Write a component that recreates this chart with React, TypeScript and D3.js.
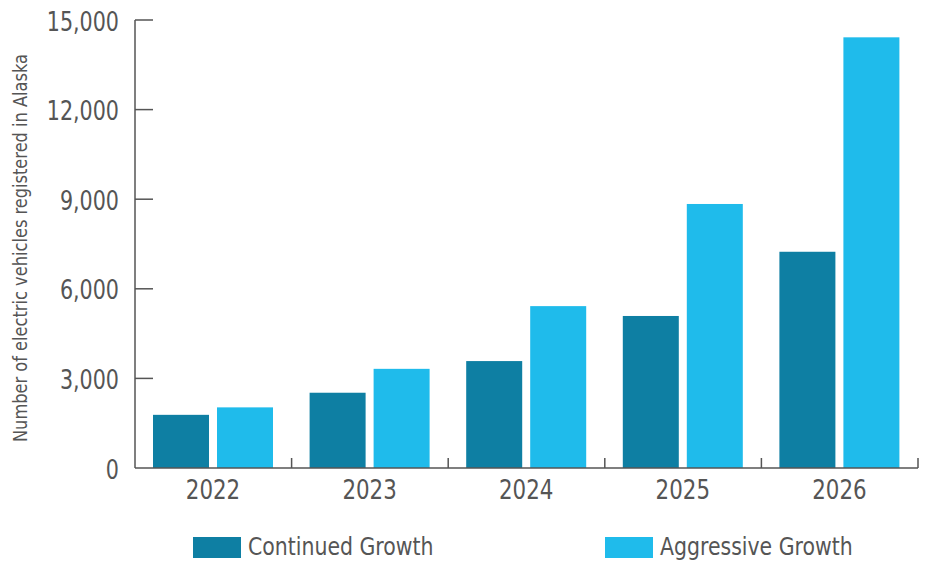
import React from "react";
import * as d3 from "d3";

const years = ["2022", "2023", "2024", "2025", "2026"];
const seriesNames = ["Continued Growth", "Aggressive Growth"];
const continuedGrowth = [1780, 2520, 3580, 5090, 7240];
const aggressiveGrowth = [2030, 3320, 5420, 8840, 14420];
const yTicks = [0, 3000, 6000, 9000, 12000, 15000];
const colors = ["#0e7fa3", "#1fbbeb"];

const FONT = "'DejaVu Sans Condensed', 'Liberation Sans Narrow', 'Open Sans', sans-serif";
const TEXT = "#555555";
const AXIS = "#555555";

function T(props: {
  x: number;
  y: number;
  sx: number;
  rot?: number;
  anchor?: string;
  size: number;
  children: React.ReactNode;
}) {
  const { x, y, sx, rot = 0, anchor = "start", size, children } = props;
  return (
    <text
      transform={`translate(${x}, ${y}) rotate(${rot}) scale(${sx}, 1)`}
      textAnchor={anchor}
      dominantBaseline="middle"
      fontSize={size}
      fill={TEXT}
    >
      {children}
    </text>
  );
}

export default function App() {
  const W = 925;
  const H = 565;
  const left = 135;
  const right = 918;
  const top = 20;
  const bottom = 468;

  const x0 = d3.scaleBand<string>().domain(years).range([left, right]).padding(0);
  const x1 = d3.scaleBand<string>().domain(seriesNames).range([18, 138]).paddingInner(0.125).paddingOuter(0);
  const y = d3.scaleLinear().domain([0, 15000]).range([bottom, top]);
  const fmt = d3.format(",");

  const values = [continuedGrowth, aggressiveGrowth];

  return (
    <svg width={W} height={H} style={{ position: "absolute", left: 0, top: 0, background: "#fff" }} fontFamily={FONT}>
      <rect x={0} y={0} width={W} height={H} fill="#fff" />
      {/* bars */}
      {years.map((yr, i) => (
        <g key={yr}>
          {seriesNames.map((s, j) => (
            <rect
              key={s}
              x={(x0(yr) as number) + (x1(s) as number)}
              y={y(values[j][i])}
              width={x1.bandwidth()}
              height={bottom - y(values[j][i])}
              fill={colors[j]}
            />
          ))}
        </g>
      ))}
      {/* y axis */}
      <line x1={left} x2={left} y1={top} y2={bottom} stroke={AXIS} strokeWidth={1.5} />
      {yTicks.map((t) => (
        <g key={t}>
          {t > 0 && <line x1={left} x2={left + 18} y1={y(t)} y2={y(t)} stroke={AXIS} strokeWidth={1.5} />}
          <T x={119} y={y(t) + 3} sx={0.85} anchor="end" size={27}>
            {fmt(t)}
          </T>
        </g>
      ))}
      {/* x axis */}
      <line x1={left} x2={right} y1={bottom} y2={bottom} stroke={AXIS} strokeWidth={1.5} />
      {years.map((yr) => (
        <g key={yr}>
          <line
            x1={(x0(yr) as number) + x0.step()}
            x2={(x0(yr) as number) + x0.step()}
            y1={bottom}
            y2={bottom - 10}
            stroke={AXIS}
            strokeWidth={1.5}
          />
          <T x={(x0(yr) as number) + 18 + 60} y={492} sx={0.88} anchor="middle" size={27}>
            {yr}
          </T>
        </g>
      ))}
      {/* y title */}
      <T x={21} y={248} rot={-90} sx={0.95} anchor="middle" size={19}>
        Number of electric vehicles registered in Alaska
      </T>
      {/* legend */}
      {seriesNames.map((s, j) => {
        const lx = j === 0 ? 193 : 605;
        return (
          <g key={s}>
            <rect x={lx} y={537} width={48} height={21} fill={colors[j]} />
            <T x={lx + 55} y={548} sx={0.91} size={25}>
              {s}
            </T>
          </g>
        );
      })}
    </svg>
  );
}
